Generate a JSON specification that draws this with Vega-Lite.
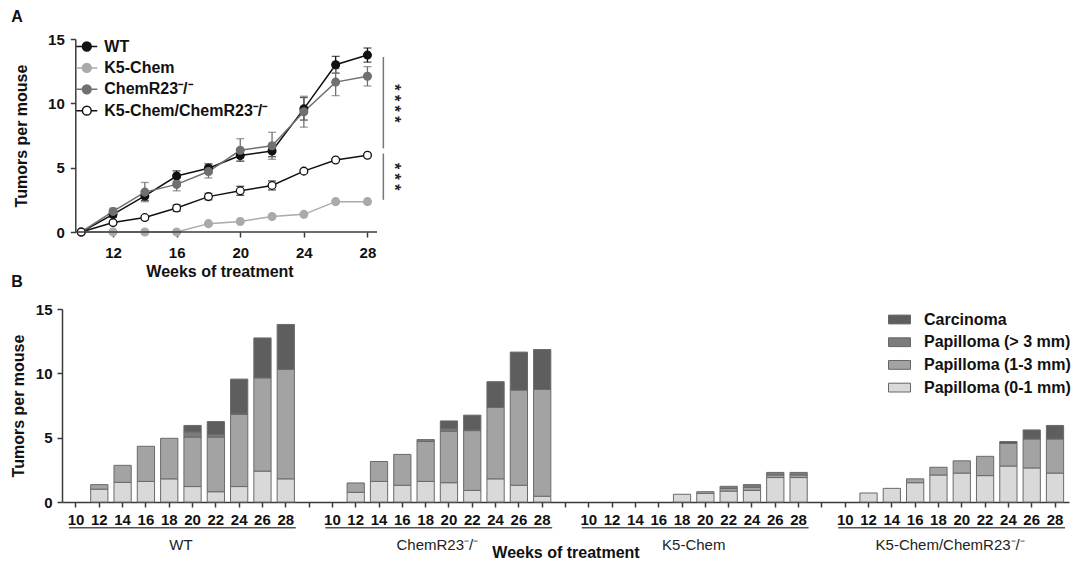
{
  "$schema": "https://vega.github.io/schema/vega-lite/v6.json",
  "padding": {"left": 10, "top": 9, "right": 5, "bottom": 0},
  "spacing": 12,
  "columns": 1,
  "align": "none",
  "resolve": {"scale": {"color": "independent", "x": "independent", "y": "independent"}, "legend": {"color": "independent"}},
  "config": {
    "font": "Liberation Sans",
    "view": {"stroke": null},
    "axis": {
      "grid": false,
      "domainColor": "#3a3a3a", "domainWidth": 1.5,
      "tickColor": "#3a3a3a", "tickWidth": 1.5, "tickSize": 5,
      "labelFont": "Liberation Sans", "labelFontWeight": "bold", "labelFontSize": 15, "labelColor": "#111",
      "titleFont": "Liberation Sans", "titleFontWeight": "bold", "titleFontSize": 16, "titleColor": "#111"
    },
    "legend": {"labelFont": "Liberation Sans", "labelColor": "#111", "padding": 0, "labelLimit": 300}
  },
  "concat": [
    {
      "width": 315,
      "height": 193,
      "data": {"values": [
        {"g":"WT","w":10,"m":0,"lo":0,"hi":0},
        {"g":"WT","w":12,"m":1.37,"lo":1.15,"hi":1.6},
        {"g":"WT","w":14,"m":2.8,"lo":2.45,"hi":3.15},
        {"g":"WT","w":16,"m":4.35,"lo":3.95,"hi":4.75},
        {"g":"WT","w":18,"m":4.95,"lo":4.6,"hi":5.3},
        {"g":"WT","w":20,"m":5.95,"lo":5.5,"hi":6.4},
        {"g":"WT","w":22,"m":6.3,"lo":5.85,"hi":6.75},
        {"g":"WT","w":24,"m":9.57,"lo":8.7,"hi":10.45},
        {"g":"WT","w":26,"m":13.0,"lo":12.35,"hi":13.65},
        {"g":"WT","w":28,"m":13.75,"lo":13.2,"hi":14.3},
        {"g":"K5-Chem","w":10,"m":0,"lo":0,"hi":0},
        {"g":"K5-Chem","w":12,"m":0,"lo":0,"hi":0},
        {"g":"K5-Chem","w":14,"m":0,"lo":0,"hi":0},
        {"g":"K5-Chem","w":16,"m":0,"lo":0,"hi":0},
        {"g":"K5-Chem","w":18,"m":0.65,"lo":0.65,"hi":0.65},
        {"g":"K5-Chem","w":20,"m":0.82,"lo":0.82,"hi":0.82},
        {"g":"K5-Chem","w":22,"m":1.2,"lo":1.2,"hi":1.2},
        {"g":"K5-Chem","w":24,"m":1.37,"lo":1.37,"hi":1.37},
        {"g":"K5-Chem","w":26,"m":2.36,"lo":2.36,"hi":2.36},
        {"g":"K5-Chem","w":28,"m":2.36,"lo":2.36,"hi":2.36},
        {"g":"ChemR23⁻/⁻","w":10,"m":0,"lo":0,"hi":0},
        {"g":"ChemR23⁻/⁻","w":12,"m":1.6,"lo":1.35,"hi":1.85},
        {"g":"ChemR23⁻/⁻","w":14,"m":3.1,"lo":2.35,"hi":3.85},
        {"g":"ChemR23⁻/⁻","w":16,"m":3.7,"lo":3.2,"hi":4.2},
        {"g":"ChemR23⁻/⁻","w":18,"m":4.7,"lo":4.2,"hi":5.2},
        {"g":"ChemR23⁻/⁻","w":20,"m":6.35,"lo":5.5,"hi":7.25},
        {"g":"ChemR23⁻/⁻","w":22,"m":6.7,"lo":5.65,"hi":7.75},
        {"g":"ChemR23⁻/⁻","w":24,"m":9.35,"lo":8.15,"hi":10.55},
        {"g":"ChemR23⁻/⁻","w":26,"m":11.65,"lo":10.6,"hi":12.7},
        {"g":"ChemR23⁻/⁻","w":28,"m":12.1,"lo":11.35,"hi":12.85},
        {"g":"K5-Chem/ChemR23⁻/⁻","w":10,"m":0,"lo":0,"hi":0},
        {"g":"K5-Chem/ChemR23⁻/⁻","w":12,"m":0.73,"lo":0.58,"hi":0.88},
        {"g":"K5-Chem/ChemR23⁻/⁻","w":14,"m":1.12,"lo":0.97,"hi":1.27},
        {"g":"K5-Chem/ChemR23⁻/⁻","w":16,"m":1.86,"lo":1.61,"hi":2.11},
        {"g":"K5-Chem/ChemR23⁻/⁻","w":18,"m":2.75,"lo":2.5,"hi":3.0},
        {"g":"K5-Chem/ChemR23⁻/⁻","w":20,"m":3.2,"lo":2.85,"hi":3.55},
        {"g":"K5-Chem/ChemR23⁻/⁻","w":22,"m":3.62,"lo":3.27,"hi":3.97},
        {"g":"K5-Chem/ChemR23⁻/⁻","w":24,"m":4.73,"lo":4.58,"hi":4.88},
        {"g":"K5-Chem/ChemR23⁻/⁻","w":26,"m":5.6,"lo":5.5,"hi":5.7},
        {"g":"K5-Chem/ChemR23⁻/⁻","w":28,"m":5.97,"lo":5.87,"hi":6.07}
      ]},
      "layer": [
        {
          "mark": {"type": "line", "strokeWidth": 1.5},
          "encoding": {
            "x": {"field": "w", "type": "quantitative", "title": "Weeks of treatment",
                  "scale": {"domain": [8.79, 28.6], "nice": false, "zero": false},
                  "axis": {"values": [12, 16, 20, 24, 28], "domain": false, "labelPadding": 8, "titlePadding": 3}},
            "y": {"field": "m", "type": "quantitative", "title": "Tumors per mouse",
                  "scale": {"domain": [0, 15], "nice": false},
                  "axis": {"values": [0, 5, 10, 15], "offset": -13.3, "labelPadding": 6, "titlePadding": 18}},
            "stroke": {"field": "g", "type": "nominal", "title": null,
              "scale": {"domain": ["WT", "K5-Chem", "ChemR23⁻/⁻", "K5-Chem/ChemR23⁻/⁻"], "range": ["#111111", "#aaaaaa", "#707070", "#111111"]},
              "legend": {"orient": "none", "legendX": 13.3, "legendY": -4, "padding": 0, "title": null,
                "symbolType": "M -1 0 L -0.42 0 M 0.42 0 L 1 0 M -0.42 0 A 0.42 0.42 0 1 0 0.42 0 A 0.42 0.42 0 1 0 -0.42 0 Z",
                "symbolSize": 441, "symbolStrokeWidth": 1.5, "labelFontSize": 16, "labelFontWeight": "bold", "labelOffset": 6, "rowPadding": 1.4, "labelLimit": 300}},
            "detail": {"field": "g"}
          }
        },
        {
          "transform": [{"filter": "datum.hi > datum.lo"}],
          "mark": {"type": "errorbar", "ticks": {"size": 8}, "thickness": 1.3},
          "encoding": {
            "x": {"field": "w", "type": "quantitative", "title": "Weeks of treatment"},
            "y": {"field": "lo", "type": "quantitative", "title": "Tumors per mouse"},
            "y2": {"field": "hi"},
            "color": {"field": "g", "type": "nominal", "legend": null,
              "scale": {"domain": ["WT", "K5-Chem", "ChemR23⁻/⁻", "K5-Chem/ChemR23⁻/⁻"], "range": ["#111111", "#aaaaaa", "#707070", "#111111"]}}
          }
        },
        {
          "mark": {"type": "point", "filled": true, "size": 60, "strokeWidth": 1.3, "opacity": 1},
          "encoding": {
            "x": {"field": "w", "type": "quantitative", "title": "Weeks of treatment"},
            "y": {"field": "m", "type": "quantitative", "title": "Tumors per mouse"},
            "fill": {"field": "g", "type": "nominal", "title": null,
              "scale": {"domain": ["WT", "K5-Chem", "ChemR23⁻/⁻", "K5-Chem/ChemR23⁻/⁻"], "range": ["#111111", "#aaaaaa", "#707070", "#ffffff"]},
              "legend": {"orient": "none", "legendX": 13.3, "legendY": -4, "padding": 0, "title": null,
                "symbolType": "M -1 0 L -0.42 0 M 0.42 0 L 1 0 M -0.42 0 A 0.42 0.42 0 1 0 0.42 0 A 0.42 0.42 0 1 0 -0.42 0 Z",
                "symbolSize": 441, "symbolStrokeWidth": 1.5, "labelFontSize": 16, "labelFontWeight": "bold", "labelOffset": 6, "rowPadding": 1.4, "labelLimit": 300}},
            "stroke": {"field": "g", "type": "nominal", "title": null}
          }
        },
        {
          "data": {"values": [{}]},
          "mark": {"type": "rule", "color": "#3a3a3a", "strokeWidth": 1.5},
          "encoding": {"x": {"datum": 9.64}, "x2": {"datum": 28.6}, "y": {"datum": 0}}
        },
        {
          "data": {"values": [{}]},
          "mark": {"type": "rule", "color": "#777777", "strokeWidth": 1.5},
          "encoding": {"x": {"datum": 29.0}, "y": {"datum": 13.6}, "y2": {"datum": 6.5}}
        },
        {
          "data": {"values": [{}]},
          "mark": {"type": "rule", "color": "#777777", "strokeWidth": 1.5},
          "encoding": {"x": {"datum": 29.0}, "y": {"datum": 6.1}, "y2": {"datum": 2.5}}
        },
        {
          "data": {"values": [{}]},
          "mark": {"type": "text", "angle": 90, "fontSize": 16, "fontWeight": "bold", "color": "#222", "align": "center", "baseline": "middle"},
          "encoding": {"x": {"datum": 29.7}, "y": {"datum": 10.0}, "text": {"value": "* * * *"}}
        },
        {
          "data": {"values": [{}]},
          "mark": {"type": "text", "angle": 90, "fontSize": 16, "fontWeight": "bold", "color": "#222", "align": "center", "baseline": "middle"},
          "encoding": {"x": {"datum": 29.7}, "y": {"datum": 4.3}, "text": {"value": "* * *"}}
        },
        {
          "data": {"values": [{"panel": "A", "h": 16.3}, {"panel": "B", "h": -4.25}]},
          "mark": {"type": "text", "fontSize": 16, "fontWeight": "bold", "color": "#111", "align": "left", "baseline": "alphabetic"},
          "encoding": {"x": {"datum": 5.6}, "y": {"field": "h", "type": "quantitative"}, "text": {"field": "panel"}}
        }
      ]
    },
    {
      "width": 1007,
      "height": 193,
      "layer": [
        {
          "data": {"values": [
            {"s":"WT 12","t":"Papilloma (0-1 mm)","k":1,"v":1.0},
            {"s":"WT 12","t":"Papilloma (1-3 mm)","k":2,"v":0.35},
            {"s":"WT 14","t":"Papilloma (0-1 mm)","k":1,"v":1.53},
            {"s":"WT 14","t":"Papilloma (1-3 mm)","k":2,"v":1.32},
            {"s":"WT 16","t":"Papilloma (0-1 mm)","k":1,"v":1.6},
            {"s":"WT 16","t":"Papilloma (1-3 mm)","k":2,"v":2.73},
            {"s":"WT 18","t":"Papilloma (0-1 mm)","k":1,"v":1.8},
            {"s":"WT 18","t":"Papilloma (1-3 mm)","k":2,"v":3.15},
            {"s":"WT 20","t":"Papilloma (0-1 mm)","k":1,"v":1.2},
            {"s":"WT 20","t":"Papilloma (1-3 mm)","k":2,"v":3.85},
            {"s":"WT 20","t":"Papilloma (> 3 mm)","k":3,"v":0.4},
            {"s":"WT 20","t":"Carcinoma","k":4,"v":0.5},
            {"s":"WT 22","t":"Papilloma (0-1 mm)","k":1,"v":0.8},
            {"s":"WT 22","t":"Papilloma (1-3 mm)","k":2,"v":4.25},
            {"s":"WT 22","t":"Papilloma (> 3 mm)","k":3,"v":0.2},
            {"s":"WT 22","t":"Carcinoma","k":4,"v":1.0},
            {"s":"WT 24","t":"Papilloma (0-1 mm)","k":1,"v":1.2},
            {"s":"WT 24","t":"Papilloma (1-3 mm)","k":2,"v":5.6},
            {"s":"WT 24","t":"Papilloma (> 3 mm)","k":3,"v":0.05},
            {"s":"WT 24","t":"Carcinoma","k":4,"v":2.7},
            {"s":"WT 26","t":"Papilloma (0-1 mm)","k":1,"v":2.4},
            {"s":"WT 26","t":"Papilloma (1-3 mm)","k":2,"v":7.25},
            {"s":"WT 26","t":"Carcinoma","k":4,"v":3.1},
            {"s":"WT 28","t":"Papilloma (0-1 mm)","k":1,"v":1.8},
            {"s":"WT 28","t":"Papilloma (1-3 mm)","k":2,"v":8.5},
            {"s":"WT 28","t":"Carcinoma","k":4,"v":3.5},
            {"s":"CR 12","t":"Papilloma (0-1 mm)","k":1,"v":0.75},
            {"s":"CR 12","t":"Papilloma (1-3 mm)","k":2,"v":0.73},
            {"s":"CR 14","t":"Papilloma (0-1 mm)","k":1,"v":1.6},
            {"s":"CR 14","t":"Papilloma (1-3 mm)","k":2,"v":1.55},
            {"s":"CR 16","t":"Papilloma (0-1 mm)","k":1,"v":1.3},
            {"s":"CR 16","t":"Papilloma (1-3 mm)","k":2,"v":2.4},
            {"s":"CR 18","t":"Papilloma (0-1 mm)","k":1,"v":1.6},
            {"s":"CR 18","t":"Papilloma (1-3 mm)","k":2,"v":3.1},
            {"s":"CR 18","t":"Papilloma (> 3 mm)","k":3,"v":0.15},
            {"s":"CR 20","t":"Papilloma (0-1 mm)","k":1,"v":1.5},
            {"s":"CR 20","t":"Papilloma (1-3 mm)","k":2,"v":4.0},
            {"s":"CR 20","t":"Papilloma (> 3 mm)","k":3,"v":0.2},
            {"s":"CR 20","t":"Carcinoma","k":4,"v":0.6},
            {"s":"CR 22","t":"Papilloma (0-1 mm)","k":1,"v":0.9},
            {"s":"CR 22","t":"Papilloma (1-3 mm)","k":2,"v":4.65},
            {"s":"CR 22","t":"Papilloma (> 3 mm)","k":3,"v":0.05},
            {"s":"CR 22","t":"Carcinoma","k":4,"v":1.15},
            {"s":"CR 24","t":"Papilloma (0-1 mm)","k":1,"v":1.8},
            {"s":"CR 24","t":"Papilloma (1-3 mm)","k":2,"v":5.55},
            {"s":"CR 24","t":"Carcinoma","k":4,"v":2.0},
            {"s":"CR 26","t":"Papilloma (0-1 mm)","k":1,"v":1.3},
            {"s":"CR 26","t":"Papilloma (1-3 mm)","k":2,"v":7.4},
            {"s":"CR 26","t":"Carcinoma","k":4,"v":2.95},
            {"s":"CR 28","t":"Papilloma (0-1 mm)","k":1,"v":0.45},
            {"s":"CR 28","t":"Papilloma (1-3 mm)","k":2,"v":8.3},
            {"s":"CR 28","t":"Carcinoma","k":4,"v":3.1},
            {"s":"K5 18","t":"Papilloma (0-1 mm)","k":1,"v":0.6},
            {"s":"K5 20","t":"Papilloma (0-1 mm)","k":1,"v":0.67},
            {"s":"K5 20","t":"Papilloma (1-3 mm)","k":2,"v":0.13},
            {"s":"K5 22","t":"Papilloma (0-1 mm)","k":1,"v":0.85},
            {"s":"K5 22","t":"Papilloma (1-3 mm)","k":2,"v":0.2},
            {"s":"K5 22","t":"Papilloma (> 3 mm)","k":3,"v":0.17},
            {"s":"K5 24","t":"Papilloma (0-1 mm)","k":1,"v":0.9},
            {"s":"K5 24","t":"Papilloma (1-3 mm)","k":2,"v":0.25},
            {"s":"K5 24","t":"Papilloma (> 3 mm)","k":3,"v":0.2},
            {"s":"K5 26","t":"Papilloma (0-1 mm)","k":1,"v":1.9},
            {"s":"K5 26","t":"Papilloma (1-3 mm)","k":2,"v":0.2},
            {"s":"K5 26","t":"Papilloma (> 3 mm)","k":3,"v":0.2},
            {"s":"K5 28","t":"Papilloma (0-1 mm)","k":1,"v":1.9},
            {"s":"K5 28","t":"Papilloma (1-3 mm)","k":2,"v":0.2},
            {"s":"K5 28","t":"Papilloma (> 3 mm)","k":3,"v":0.2},
            {"s":"KC 12","t":"Papilloma (0-1 mm)","k":1,"v":0.7},
            {"s":"KC 14","t":"Papilloma (0-1 mm)","k":1,"v":1.06},
            {"s":"KC 16","t":"Papilloma (0-1 mm)","k":1,"v":1.5},
            {"s":"KC 16","t":"Papilloma (1-3 mm)","k":2,"v":0.3},
            {"s":"KC 18","t":"Papilloma (0-1 mm)","k":1,"v":2.1},
            {"s":"KC 18","t":"Papilloma (1-3 mm)","k":2,"v":0.6},
            {"s":"KC 20","t":"Papilloma (0-1 mm)","k":1,"v":2.25},
            {"s":"KC 20","t":"Papilloma (1-3 mm)","k":2,"v":0.95},
            {"s":"KC 22","t":"Papilloma (0-1 mm)","k":1,"v":2.05},
            {"s":"KC 22","t":"Papilloma (1-3 mm)","k":2,"v":1.5},
            {"s":"KC 24","t":"Papilloma (0-1 mm)","k":1,"v":2.8},
            {"s":"KC 24","t":"Papilloma (1-3 mm)","k":2,"v":1.75},
            {"s":"KC 24","t":"Carcinoma","k":4,"v":0.15},
            {"s":"KC 26","t":"Papilloma (0-1 mm)","k":1,"v":2.65},
            {"s":"KC 26","t":"Papilloma (1-3 mm)","k":2,"v":2.25},
            {"s":"KC 26","t":"Carcinoma","k":4,"v":0.7},
            {"s":"KC 28","t":"Papilloma (0-1 mm)","k":1,"v":2.25},
            {"s":"KC 28","t":"Papilloma (1-3 mm)","k":2,"v":2.65},
            {"s":"KC 28","t":"Carcinoma","k":4,"v":1.05}
          ]},
          "mark": {"type": "bar", "stroke": "#6a6a6a", "strokeWidth": 1},
          "encoding": {
            "x": {"field": "s", "type": "nominal", "title": "Weeks of treatment",
              "scale": {"domain": ["WT 10","WT 12","WT 14","WT 16","WT 18","WT 20","WT 22","WT 24","WT 26","WT 28","gap1",
                                   "CR 10","CR 12","CR 14","CR 16","CR 18","CR 20","CR 22","CR 24","CR 26","CR 28","gap2",
                                   "K5 10","K5 12","K5 14","K5 16","K5 18","K5 20","K5 22","K5 24","K5 26","K5 28","gap3",
                                   "KC 10","KC 12","KC 14","KC 16","KC 18","KC 20","KC 22","KC 24","KC 26","KC 28"],
                        "paddingInner": 0.26, "paddingOuter": 0.23},
              "axis": {"labelAngle": 0, "labelOverlap": false, "labelBound": false, "labelPadding": 5.5, "titlePadding": 17,
                       "labelExpr": "indexof(datum.value, 'gap') == 0 ? '' : slice(datum.value, -2)"}},
            "y": {"field": "v", "type": "quantitative", "stack": "zero", "title": "Tumors per mouse",
              "scale": {"domain": [0, 15], "nice": false},
              "axis": {"values": [0, 5, 10, 15], "labelPadding": 5, "titlePadding": 9}},
            "color": {"field": "t", "type": "nominal", "title": null,
              "scale": {"domain": ["Carcinoma", "Papilloma (> 3 mm)", "Papilloma (1-3 mm)", "Papilloma (0-1 mm)"],
                        "range": ["#5e5e5e", "#7c7c7c", "#a3a3a3", "#d9d9d9"]},
              "legend": {"orient": "none", "legendX": 826, "legendY": -1, "padding": 0, "title": null,
                "symbolType": "M -1 -0.4 H 1 V 0.4 H -1 Z", "symbolSize": 484,
                "symbolStrokeColor": "#666666", "symbolStrokeWidth": 1,
                "labelFontSize": 16, "labelFontWeight": "bold", "labelOffset": 13, "rowPadding": 2.7, "labelLimit": 300}},
            "order": {"field": "k", "type": "quantitative"}
          }
        },
        {
          "data": {"values": [
            {"a": "WT 10", "b": "WT 28"},
            {"a": "CR 10", "b": "CR 28"},
            {"a": "K5 10", "b": "K5 28"},
            {"a": "KC 10", "b": "KC 28"}
          ]},
          "mark": {"type": "rule", "color": "#555555", "strokeWidth": 1.5, "xOffset": -7, "x2Offset": 10},
          "encoding": {
            "x": {"field": "a", "type": "nominal", "title": "Weeks of treatment"},
            "x2": {"field": "b"},
            "y": {"datum": -2.0}
          }
        },
        {
          "data": {"values": [
            {"m": "WT 18", "label": "WT"},
            {"m": "CR 18", "label": "ChemR23⁻/⁻"},
            {"m": "K5 18", "label": "K5-Chem"},
            {"m": "KC 18", "label": "K5-Chem/ChemR23⁻/⁻"}
          ]},
          "mark": {"type": "text", "fontSize": 15, "color": "#222", "align": "center", "baseline": "alphabetic", "dx": 11.7},
          "encoding": {
            "x": {"field": "m", "type": "nominal", "title": "Weeks of treatment"},
            "y": {"datum": -3.7},
            "text": {"field": "label"}
          }
        }
      ]
    }
  ]
}
